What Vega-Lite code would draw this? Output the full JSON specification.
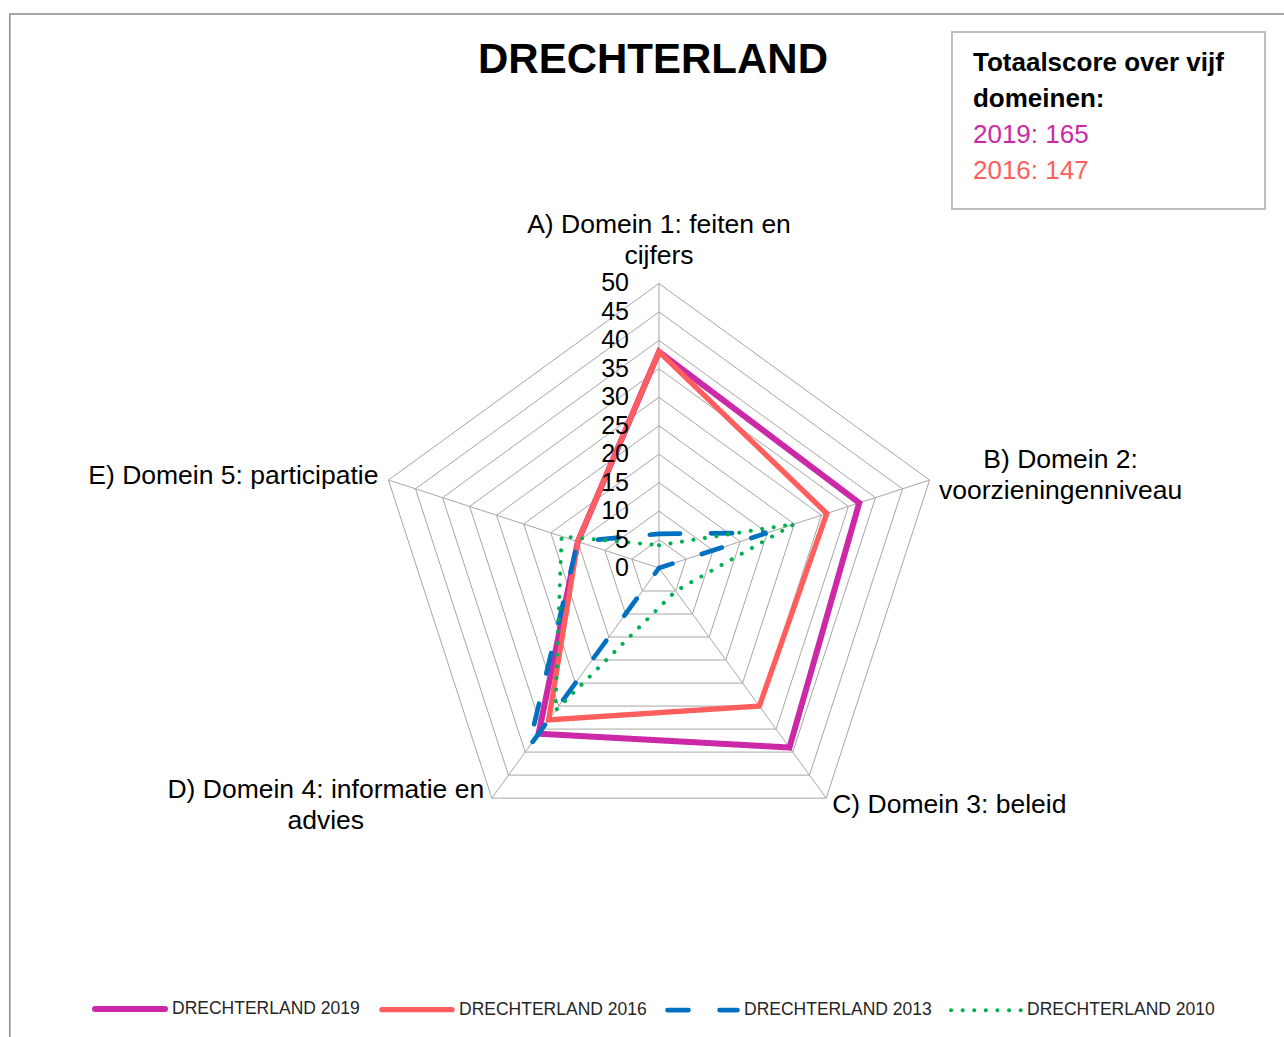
{
  "$schema": "https://vega.github.io/schema/vega-lite/v6.json",
  "width": 1284,
  "height": 1037,
  "padding": 0,
  "autosize": "none",
  "background": "white",
  "config": {"view": {"stroke": null}},
  "title": {"text": "DRECHTERLAND", "font": "Liberation Sans", "fontSize": 42, "fontWeight": "bold", "color": "#000000", "anchor": "middle", "frame": "group", "dx": 11, "offset": -82},
  "datasets": {
    "scores": [
      {"series": "DRECHTERLAND 2019", "k": 0, "v": 38},
      {"series": "DRECHTERLAND 2019", "k": 1, "v": 37},
      {"series": "DRECHTERLAND 2019", "k": 2, "v": 39},
      {"series": "DRECHTERLAND 2019", "k": 3, "v": 36},
      {"series": "DRECHTERLAND 2019", "k": 4, "v": 15},
      {"series": "DRECHTERLAND 2016", "k": 0, "v": 38},
      {"series": "DRECHTERLAND 2016", "k": 1, "v": 31},
      {"series": "DRECHTERLAND 2016", "k": 2, "v": 30},
      {"series": "DRECHTERLAND 2016", "k": 3, "v": 33},
      {"series": "DRECHTERLAND 2016", "k": 4, "v": 15},
      {"series": "DRECHTERLAND 2013", "k": 0, "v": 6},
      {"series": "DRECHTERLAND 2013", "k": 1, "v": 20},
      {"series": "DRECHTERLAND 2013", "k": 2, "v": 0},
      {"series": "DRECHTERLAND 2013", "k": 3, "v": 39},
      {"series": "DRECHTERLAND 2013", "k": 4, "v": 15},
      {"series": "DRECHTERLAND 2010", "k": 0, "v": 4},
      {"series": "DRECHTERLAND 2010", "k": 1, "v": 25},
      {"series": "DRECHTERLAND 2010", "k": 2, "v": 5},
      {"series": "DRECHTERLAND 2010", "k": 3, "v": 31},
      {"series": "DRECHTERLAND 2010", "k": 4, "v": 18}
    ],
    "rings": [
      {"v": 5, "k": [0, 1, 2, 3, 4]},
      {"v": 10, "k": [0, 1, 2, 3, 4]},
      {"v": 15, "k": [0, 1, 2, 3, 4]},
      {"v": 20, "k": [0, 1, 2, 3, 4]},
      {"v": 25, "k": [0, 1, 2, 3, 4]},
      {"v": 30, "k": [0, 1, 2, 3, 4]},
      {"v": 35, "k": [0, 1, 2, 3, 4]},
      {"v": 40, "k": [0, 1, 2, 3, 4]},
      {"v": 45, "k": [0, 1, 2, 3, 4]},
      {"v": 50, "k": [0, 1, 2, 3, 4]}
    ],
    "ticks": [
      {"v": 0}, {"v": 5}, {"v": 10}, {"v": 15}, {"v": 20}, {"v": 25},
      {"v": 30}, {"v": 35}, {"v": 40}, {"v": 45}, {"v": 50}
    ],
    "domains": [
      {"k": 0, "v": 50, "label": "A) Domein 1: feiten en\ncijfers"},
      {"k": 1, "v": 50, "label": "B) Domein 2:\nvoorzieningenniveau"},
      {"k": 2, "v": 50, "label": "C) Domein 3: beleid"},
      {"k": 3, "v": 50, "label": "D) Domein 4: informatie en\nadvies"},
      {"k": 4, "v": 50, "label": "E) Domein 5: participatie"}
    ]
  },
  "layer": [
    {
      "data": {"name": "rings"},
      "transform": [
        {"flatten": ["k"]},
        {"calculate": "PI/2 - datum.k*2*PI/5", "as": "ang"},
        {"calculate": "datum.v*cos(datum.ang)", "as": "px"},
        {"calculate": "datum.v*sin(datum.ang)", "as": "py"}
      ],
      "mark": {"type": "line", "interpolate": "linear-closed", "stroke": "#A6A6A6", "strokeWidth": 1},
      "encoding": {
        "x": {"field": "px", "type": "quantitative", "scale": {"domain": [-115.82, 109.84], "nice": false, "zero": false}, "axis": null},
        "y": {"field": "py", "type": "quantitative", "scale": {"domain": [-82.43, 99.82], "nice": false, "zero": false}, "axis": null},
        "detail": {"field": "v", "type": "nominal"},
        "order": {"field": "k", "type": "quantitative"}
      }
    },
    {
      "data": {"name": "domains"},
      "transform": [
        {"calculate": "PI/2 - datum.k*2*PI/5", "as": "ang"},
        {"calculate": "datum.v*cos(datum.ang)", "as": "px"},
        {"calculate": "datum.v*sin(datum.ang)", "as": "py"},
        {"calculate": "0", "as": "c"}
      ],
      "mark": {"type": "rule", "stroke": "#A6A6A6", "strokeWidth": 1},
      "encoding": {
        "x": {"field": "c", "type": "quantitative"},
        "y": {"field": "c", "type": "quantitative"},
        "x2": {"field": "px"},
        "y2": {"field": "py"}
      }
    },
    {
      "data": {"name": "scores"},
      "transform": [
        {"calculate": "PI/2 - datum.k*2*PI/5", "as": "ang"},
        {"calculate": "datum.v*cos(datum.ang)", "as": "px"},
        {"calculate": "datum.v*sin(datum.ang)", "as": "py"}
      ],
      "mark": {"type": "line", "interpolate": "linear-closed", "strokeCap": "round"},
      "encoding": {
        "x": {"field": "px", "type": "quantitative"},
        "y": {"field": "py", "type": "quantitative"},
        "order": {"field": "k", "type": "quantitative"},
        "color": {
          "field": "series", "type": "nominal",
          "scale": {"domain": ["DRECHTERLAND 2019", "DRECHTERLAND 2016", "DRECHTERLAND 2013", "DRECHTERLAND 2010"], "range": ["#CC29A8", "#FF5E5E", "#0070C0", "#00B050"]},
          "legend": {
            "orient": "none", "legendX": 92, "legendY": 971, "direction": "horizontal", "title": null,
            "symbolType": "stroke", "symbolSize": 4900, "labelFont": "Liberation Sans", "labelFontSize": 17.5,
            "labelColor": "#262626", "labelLimit": 0, "columnPadding": 11, "labelOffset": 4, "padding": 0,
            "encoding": {"symbols": {"strokeCap": {"value": "round"}}}
          }
        },
        "strokeDash": {
          "field": "series", "type": "nominal",
          "scale": {"domain": ["DRECHTERLAND 2019", "DRECHTERLAND 2016", "DRECHTERLAND 2013", "DRECHTERLAND 2010"], "range": [[1, 0], [1, 0], [21, 31], [0.1, 11.5]]}
        },
        "strokeWidth": {
          "field": "series", "type": "ordinal",
          "scale": {"domain": ["DRECHTERLAND 2019", "DRECHTERLAND 2016", "DRECHTERLAND 2013", "DRECHTERLAND 2010"], "range": [6, 4, 6, 5]}
        }
      }
    },
    {
      "data": {"name": "ticks"},
      "transform": [{"calculate": "0", "as": "c"}],
      "mark": {"type": "text", "align": "right", "baseline": "middle", "dx": -30, "font": "Liberation Sans", "fontSize": 25, "fill": "#000000"},
      "encoding": {
        "x": {"field": "c", "type": "quantitative"},
        "y": {"field": "v", "type": "quantitative"},
        "text": {"field": "v", "type": "quantitative"}
      }
    },
    {
      "data": {"name": "domains"},
      "transform": [
        {"filter": "datum.k == 0"},
        {"calculate": "PI/2 - datum.k*2*PI/5", "as": "ang"},
        {"calculate": "datum.v*cos(datum.ang)", "as": "px"},
        {"calculate": "datum.v*sin(datum.ang)", "as": "py"}
      ],
      "mark": {"type": "text", "align": "center", "baseline": "middle", "dx": 0, "dy": -58, "lineBreak": "\n", "lineHeight": 31, "font": "Liberation Sans", "fontSize": 26.5, "fill": "#000000"},
      "encoding": {
        "x": {"field": "px", "type": "quantitative"},
        "y": {"field": "py", "type": "quantitative"},
        "text": {"field": "label", "type": "nominal"}
      }
    },
    {
      "data": {"name": "domains"},
      "transform": [
        {"filter": "datum.k == 1"},
        {"calculate": "PI/2 - datum.k*2*PI/5", "as": "ang"},
        {"calculate": "datum.v*cos(datum.ang)", "as": "px"},
        {"calculate": "datum.v*sin(datum.ang)", "as": "py"}
      ],
      "mark": {"type": "text", "align": "center", "baseline": "middle", "dx": 131, "dy": -20, "lineBreak": "\n", "lineHeight": 31, "font": "Liberation Sans", "fontSize": 26.5, "fill": "#000000"},
      "encoding": {
        "x": {"field": "px", "type": "quantitative"},
        "y": {"field": "py", "type": "quantitative"},
        "text": {"field": "label", "type": "nominal"}
      }
    },
    {
      "data": {"name": "domains"},
      "transform": [
        {"filter": "datum.k == 2"},
        {"calculate": "PI/2 - datum.k*2*PI/5", "as": "ang"},
        {"calculate": "datum.v*cos(datum.ang)", "as": "px"},
        {"calculate": "datum.v*sin(datum.ang)", "as": "py"}
      ],
      "mark": {"type": "text", "align": "left", "baseline": "middle", "dx": 6, "dy": 7, "lineBreak": "\n", "lineHeight": 31, "font": "Liberation Sans", "fontSize": 26.5, "fill": "#000000"},
      "encoding": {
        "x": {"field": "px", "type": "quantitative"},
        "y": {"field": "py", "type": "quantitative"},
        "text": {"field": "label", "type": "nominal"}
      }
    },
    {
      "data": {"name": "domains"},
      "transform": [
        {"filter": "datum.k == 3"},
        {"calculate": "PI/2 - datum.k*2*PI/5", "as": "ang"},
        {"calculate": "datum.v*cos(datum.ang)", "as": "px"},
        {"calculate": "datum.v*sin(datum.ang)", "as": "py"}
      ],
      "mark": {"type": "text", "align": "center", "baseline": "middle", "dx": -166, "dy": -8, "lineBreak": "\n", "lineHeight": 31, "font": "Liberation Sans", "fontSize": 26.5, "fill": "#000000"},
      "encoding": {
        "x": {"field": "px", "type": "quantitative"},
        "y": {"field": "py", "type": "quantitative"},
        "text": {"field": "label", "type": "nominal"}
      }
    },
    {
      "data": {"name": "domains"},
      "transform": [
        {"filter": "datum.k == 4"},
        {"calculate": "PI/2 - datum.k*2*PI/5", "as": "ang"},
        {"calculate": "datum.v*cos(datum.ang)", "as": "px"},
        {"calculate": "datum.v*sin(datum.ang)", "as": "py"}
      ],
      "mark": {"type": "text", "align": "right", "baseline": "middle", "dx": -10, "dy": -4, "lineBreak": "\n", "lineHeight": 31, "font": "Liberation Sans", "fontSize": 26.5, "fill": "#000000"},
      "encoding": {
        "x": {"field": "px", "type": "quantitative"},
        "y": {"field": "py", "type": "quantitative"},
        "text": {"field": "label", "type": "nominal"}
      }
    },
    {
      "data": {"values": [{"x0": -114.1, "x1": 112, "y0": 97.36, "y1": -86}]},
      "mark": {"type": "rect", "fill": "transparent", "stroke": "#8C8C8C", "strokeWidth": 1.5},
      "encoding": {
        "x": {"field": "x0", "type": "quantitative"},
        "x2": {"field": "x1"},
        "y": {"field": "y0", "type": "quantitative"},
        "y2": {"field": "y1"}
      }
    },
    {
      "data": {"values": [{"x0": 51.49, "x1": 106.5, "y0": 94.2, "y1": 63.09}]},
      "mark": {"type": "rect", "fill": "white", "stroke": "#BFBFBF", "strokeWidth": 2},
      "encoding": {
        "x": {"field": "x0", "type": "quantitative"},
        "x2": {"field": "x1"},
        "y": {"field": "y0", "type": "quantitative"},
        "y2": {"field": "y1"}
      }
    },
    {
      "data": {"values": [{"label": "Totaalscore over vijf\ndomeinen:", "x0": 55.18, "y0": 88.75}]},
      "mark": {"type": "text", "align": "left", "baseline": "middle", "lineBreak": "\n", "lineHeight": 36, "font": "Liberation Sans", "fontSize": 26, "fontWeight": "bold", "fill": "#000000"},
      "encoding": {
        "x": {"field": "x0", "type": "quantitative"},
        "y": {"field": "y0", "type": "quantitative"},
        "text": {"field": "label", "type": "nominal"}
      }
    },
    {
      "data": {"values": [{"label": "2019: 165", "x0": 55.18, "y0": 76.1}]},
      "mark": {"type": "text", "align": "left", "baseline": "middle", "font": "Liberation Sans", "fontSize": 26, "fill": "#CC29A8"},
      "encoding": {
        "x": {"field": "x0", "type": "quantitative"},
        "y": {"field": "y0", "type": "quantitative"},
        "text": {"field": "label", "type": "nominal"}
      }
    },
    {
      "data": {"values": [{"label": "2016: 147", "x0": 55.18, "y0": 69.77}]},
      "mark": {"type": "text", "align": "left", "baseline": "middle", "font": "Liberation Sans", "fontSize": 26, "fill": "#FF5E5E"},
      "encoding": {
        "x": {"field": "x0", "type": "quantitative"},
        "y": {"field": "y0", "type": "quantitative"},
        "text": {"field": "label", "type": "nominal"}
      }
    }
  ]
}
